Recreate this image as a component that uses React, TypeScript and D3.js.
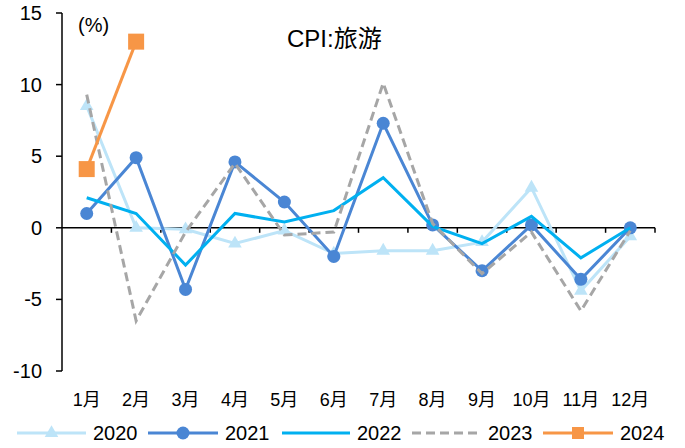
import React from "react";
import * as d3 from "d3";

const months = ["1月", "2月", "3月", "4月", "5月", "6月", "7月", "8月", "9月", "10月", "11月", "12月"];
const s2020 = [8.5, 0, -0.1, -1.1, -0.2, -1.8, -1.6, -1.6, -1.0, 2.8, -4.4, -0.6];
const s2021 = [1.0, 4.9, -4.3, 4.6, 1.8, -2.0, 7.3, 0.2, -3.0, 0.2, -3.6, 0.0];
const s2022 = [2.1, 1.0, -2.6, 1.0, 0.4, 1.2, 3.5, 0.1, -1.1, 0.8, -2.1, 0.0];
const s2023 = [9.3, -6.5, -0.3, 4.5, -0.5, -0.3, 10.1, 0.3, -3.2, -0.3, -5.8, -0.2];
const s2024 = [4.1, 13.0];
const yTicks = [-10, -5, 0, 5, 10, 15];

const seriesNames = ["2020", "2021", "2022", "2023", "2024"];

export default function App() {
  const W = 685, H = 448;
  const left = 62, right = 655, top = 13, bottom = 371;
  const x = d3.scaleBand<string>().domain(months).range([left, right]);
  const y = d3.scaleLinear().domain([-10, 15]).range([bottom, top]);
  const cx = (i: number) => (x(months[i]) as number) + x.bandwidth() / 2;
  const line = d3.line<number>().x((_, i) => cx(i)).y((d) => y(d));

  const font = "Liberation Sans, Arial, sans-serif";
  const cjk = "Liberation Sans, Arial, 'Noto Sans CJK SC', sans-serif";

  const c2020 = "#BDE4F8";
  const c2021 = "#4A86D4";
  const c2022 = "#00B0F0";
  const c2023 = "#A6A6A6";
  const c2024 = "#F79646";

  const tri = d3.symbol().type(d3.symbolTriangle).size(80)() as string;

  const legendItems = [
    { name: seriesNames[0], x1: 17, x2: 86, tx: 93, color: c2020, marker: "tri" },
    { name: seriesNames[1], x1: 148, x2: 218, tx: 225, color: c2021, marker: "circle" },
    { name: seriesNames[2], x1: 282, x2: 350, tx: 357, color: c2022, marker: "none" },
    { name: seriesNames[3], x1: 412, x2: 482, tx: 488, color: c2023, marker: "dash" },
    { name: seriesNames[4], x1: 543, x2: 613, tx: 620, color: c2024, marker: "square" },
  ];
  const ly = 433;

  return (
    <svg width={W} height={H} style={{ position: "absolute", left: 0, top: 0, background: "#fff" }}>
      {/* axes */}
      <line x1={left} y1={top} x2={left} y2={bottom} stroke="#000" strokeWidth={1.5} />
      {yTicks.map((t) => (
        <g key={t}>
          <line x1={left - 6} x2={left} y1={y(t)} y2={y(t)} stroke="#000" strokeWidth={1.5} />
          <text x={left - 20} y={y(t)} dy="0.35em" textAnchor="end" fontFamily={font} fontSize={20} fill="#000">{t}</text>
        </g>
      ))}
      <line x1={left} y1={y(0)} x2={right} y2={y(0)} stroke="#000" strokeWidth={1.5} />
      {months.map((m) => (
        <line key={m} x1={(x(m) as number) + x.bandwidth()} x2={(x(m) as number) + x.bandwidth()} y1={y(0)} y2={y(0) + 5} stroke="#000" strokeWidth={1.5} />
      ))}
      {months.map((m, i) => (
        <text key={m} x={cx(i)} y={400} dy="0.35em" textAnchor="middle" fontFamily={cjk} fontSize={18} fill="#000">{m}</text>
      ))}

      <text x={78} y={25} dy="0.35em" fontFamily={font} fontSize={20} fill="#000">(%)</text>
      <text x={287} y={47} fontFamily={cjk} fontSize={24} fill="#000">CPI:旅游</text>

      {/* 2020 */}
      <path d={line(s2020) as string} fill="none" stroke={c2020} strokeWidth={3} />
      {s2020.map((v, i) => (
        <path key={i} d={tri} transform={`translate(${cx(i)},${y(v)})`} fill={c2020} />
      ))}
      {/* 2021 */}
      <path d={line(s2021) as string} fill="none" stroke={c2021} strokeWidth={3} />
      {s2021.map((v, i) => (
        <circle key={i} cx={cx(i)} cy={y(v)} r={6.5} fill={c2021} />
      ))}
      {/* 2022 */}
      <path d={line(s2022) as string} fill="none" stroke={c2022} strokeWidth={3} />
      {/* 2023 */}
      <path d={line(s2023) as string} fill="none" stroke={c2023} strokeWidth={3} strokeDasharray="9,5" />
      {/* 2024 */}
      <path d={line(s2024) as string} fill="none" stroke={c2024} strokeWidth={3} />
      {s2024.map((v, i) => (
        <rect key={i} x={cx(i) - 8} y={y(v) - 8} width={16} height={16} fill={c2024} />
      ))}

      {/* legend */}
      {legendItems.map((it) => {
        const mid = (it.x1 + it.x2) / 2;
        return (
          <g key={it.name}>
            <line x1={it.x1} x2={it.x2} y1={ly} y2={ly} stroke={it.color} strokeWidth={3}
              strokeDasharray={it.marker === "dash" ? "9,5" : undefined} />
            {it.marker === "tri" && <path d={tri} transform={`translate(${mid},${ly})`} fill={it.color} />}
            {it.marker === "circle" && <circle cx={mid} cy={ly} r={6.5} fill={it.color} />}
            {it.marker === "square" && <rect x={mid - 6} y={ly - 6} width={12} height={12} fill={it.color} />}
            <text x={it.tx} y={ly} dy="0.35em" fontFamily={font} fontSize={20} fill="#000">{it.name}</text>
          </g>
        );
      })}
    </svg>
  );
}
